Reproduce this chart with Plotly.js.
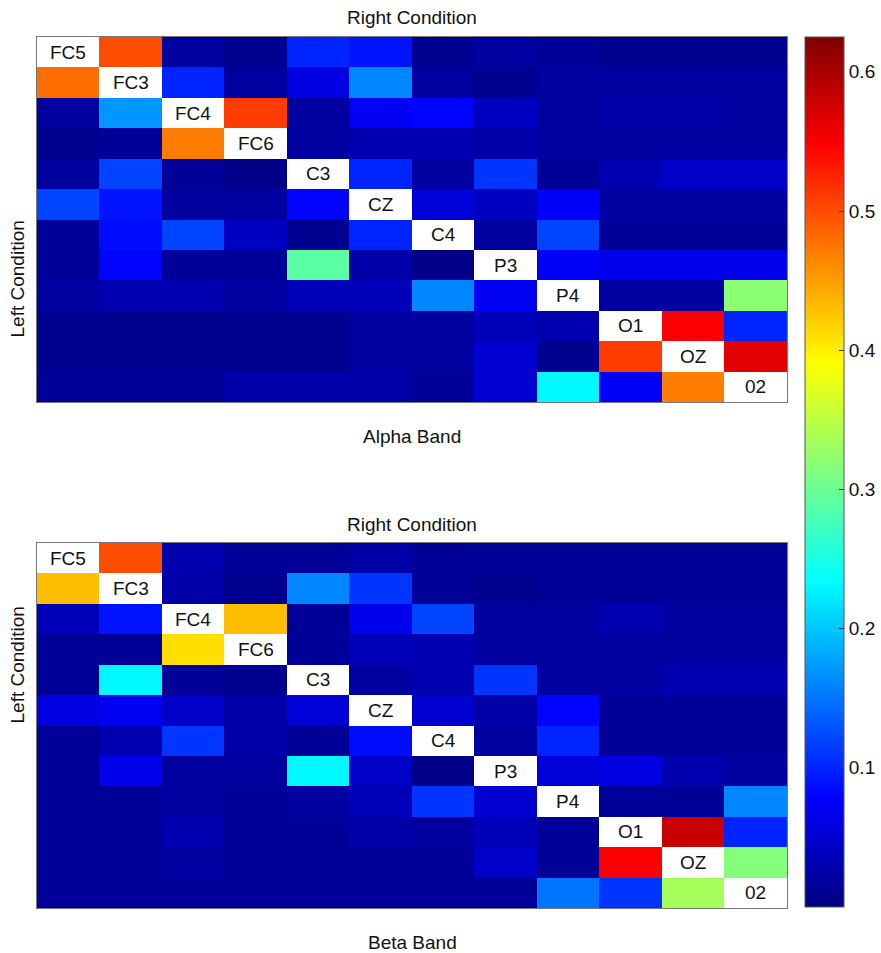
<!DOCTYPE html>
<html>
<head>
<meta charset="utf-8">
<script src="https://cdn.plot.ly/plotly-3.0.1.min.js"></script>
<style>html,body{margin:0;padding:0;background:#fff;}#chart{width:881px;height:953px;}</style>
</head>
<body>
<div id="chart"></div>
<script>
// Channel labels (rows = Left Condition, columns = Right Condition)
const channels = ['FC5','FC3','FC4','FC6','C3','CZ','C4','P3','P4','O1','OZ','02'];

// Alpha band values (diagonal = null, drawn white with label)
const alphaValues = [
  [null, 0.50, 0.02, 0.01, 0.10, 0.09, 0.01, 0.02, 0.015, 0.01, 0.01, 0.01],
  [0.48, null, 0.10, 0.02, 0.06, 0.16, 0.02, 0.01, 0.02, 0.02, 0.02, 0.02],
  [0.02, 0.17, null, 0.51, 0.02, 0.07, 0.08, 0.04, 0.02, 0.025, 0.025, 0.02],
  [0.01, 0.015, 0.47, null, 0.02, 0.03, 0.03, 0.025, 0.02, 0.02, 0.02, 0.02],
  [0.02, 0.12, 0.015, 0.005, null, 0.10, 0.02, 0.11, 0.015, 0.03, 0.045, 0.045],
  [0.12, 0.09, 0.02, 0.02, 0.08, null, 0.055, 0.04, 0.075, 0.02, 0.02, 0.02],
  [0.015, 0.085, 0.12, 0.04, 0.01, 0.10, null, 0.02, 0.12, 0.015, 0.015, 0.015],
  [0.015, 0.08, 0.015, 0.015, 0.29, 0.025, 0.005, null, 0.075, 0.065, 0.065, 0.065],
  [0.02, 0.03, 0.03, 0.02, 0.035, 0.035, 0.16, 0.07, null, 0.02, 0.02, 0.32],
  [0.01, 0.01, 0.01, 0.01, 0.01, 0.02, 0.02, 0.035, 0.03, null, 0.55, 0.10],
  [0.01, 0.01, 0.01, 0.01, 0.01, 0.02, 0.02, 0.05, 0.01, 0.51, null, 0.565],
  [0.015, 0.015, 0.015, 0.025, 0.025, 0.025, 0.015, 0.05, 0.23, 0.075, 0.47, null]
];

// Beta band values
const betaValues = [
  [null, 0.50, 0.03, 0.015, 0.015, 0.025, 0.015, 0.015, 0.015, 0.015, 0.015, 0.015],
  [0.43, null, 0.025, 0.01, 0.16, 0.11, 0.015, 0.01, 0.015, 0.015, 0.015, 0.015],
  [0.035, 0.09, null, 0.43, 0.015, 0.065, 0.12, 0.02, 0.02, 0.03, 0.02, 0.02],
  [0.015, 0.015, 0.41, null, 0.015, 0.035, 0.03, 0.02, 0.02, 0.02, 0.02, 0.02],
  [0.015, 0.23, 0.015, 0.01, null, 0.02, 0.03, 0.11, 0.02, 0.02, 0.03, 0.03],
  [0.06, 0.07, 0.045, 0.025, 0.055, null, 0.05, 0.025, 0.08, 0.015, 0.015, 0.015],
  [0.015, 0.03, 0.11, 0.025, 0.015, 0.085, null, 0.02, 0.10, 0.015, 0.015, 0.015],
  [0.015, 0.065, 0.02, 0.02, 0.23, 0.045, 0.005, null, 0.055, 0.06, 0.03, 0.02],
  [0.015, 0.015, 0.02, 0.015, 0.02, 0.035, 0.11, 0.05, null, 0.015, 0.015, 0.16],
  [0.015, 0.015, 0.03, 0.015, 0.015, 0.025, 0.02, 0.035, 0.015, null, 0.58, 0.10],
  [0.015, 0.015, 0.02, 0.015, 0.015, 0.015, 0.015, 0.045, 0.015, 0.55, null, 0.315],
  [0.015, 0.015, 0.015, 0.015, 0.015, 0.015, 0.015, 0.015, 0.15, 0.11, 0.335, null]
];

const colorTicks = [0.1, 0.2, 0.3, 0.4, 0.5, 0.6];
const zMin = 0;
const zMax = 0.625;

// MATLAB-style jet colormap
const jet = [
  [0, 'rgb(0,0,128)'],
  [0.125, 'rgb(0,0,255)'],
  [0.375, 'rgb(0,255,255)'],
  [0.625, 'rgb(255,255,0)'],
  [0.875, 'rgb(255,0,0)'],
  [1, 'rgb(128,0,0)']
];

const idx = channels.map((_, i) => i);
const font = {family: 'Liberation Sans, Arial, sans-serif', size: 19, color: '#111'};

const W = 881, H = 953;
const xDom = [37 / W, 788 / W];
const yTop = [1 - 402 / H, 1 - 37 / H];
const yBot = [1 - 908 / H, 1 - 543 / H];

const traces = [
  {
    type: 'heatmap', x: idx, y: idx, z: alphaValues, xaxis: 'x', yaxis: 'y',
    colorscale: jet, zmin: zMin, zmax: zMax, zsmooth: false, hoverongaps: false,
    colorbar: {
      x: 805 / W, xanchor: 'left', xpad: 0, ypad: 0,
      y: 1 - 472 / H, yanchor: 'middle', len: 870 / H, lenmode: 'fraction',
      thickness: 39, thicknessmode: 'pixels',
      outlinewidth: 1, outlinecolor: '#555',
      tickvals: colorTicks, ticks: 'inside', ticklen: 5, tickcolor: '#333',
      tickfont: {family: font.family, size: 19, color: '#111'}
    }
  },
  {
    type: 'heatmap', x: idx, y: idx, z: betaValues, xaxis: 'x2', yaxis: 'y2',
    colorscale: jet, zmin: zMin, zmax: zMax, zsmooth: false, hoverongaps: false,
    showscale: false
  }
];

const annotations = [];
channels.forEach((c, i) => {
  annotations.push({x: i, y: i, xref: 'x', yref: 'y', text: c, showarrow: false, font: font});
  annotations.push({x: i, y: i, xref: 'x2', yref: 'y2', text: c, showarrow: false, font: font});
});
const cx = (xDom[0] + xDom[1]) / 2;
annotations.push(
  {text: 'Right Condition', xref: 'paper', yref: 'paper', x: cx, y: 1 - 17 / H, showarrow: false, font: font, yanchor: 'middle'},
  {text: 'Alpha Band', xref: 'paper', yref: 'paper', x: cx, y: 1 - 437 / H, showarrow: false, font: font, yanchor: 'middle'},
  {text: 'Right Condition', xref: 'paper', yref: 'paper', x: cx, y: 1 - 524 / H, showarrow: false, font: font, yanchor: 'middle'},
  {text: 'Beta Band', xref: 'paper', yref: 'paper', x: cx, y: 1 - 942 / H, showarrow: false, font: font, yanchor: 'middle'},
  {text: 'Left Condition', xref: 'paper', yref: 'paper', x: 18 / W, y: 1 - 218 / H, textangle: -90, showarrow: false, font: font, xanchor: 'center'},
  {text: 'Left Condition', xref: 'paper', yref: 'paper', x: 18 / W, y: 1 - 725 / H, textangle: -90, showarrow: false, font: font, xanchor: 'center'}
);

const ax = {showticklabels: false, ticks: '', showgrid: false, zeroline: false, showline: true, linecolor: '#777', linewidth: 1, mirror: true, range: [-0.5, 11.5]};

const layout = {
  width: W, height: H,
  margin: {l: 0, r: 0, t: 0, b: 0},
  paper_bgcolor: '#fff', plot_bgcolor: '#fff',
  showlegend: false,
  xaxis: Object.assign({}, ax, {domain: xDom, anchor: 'y'}),
  yaxis: Object.assign({}, ax, {domain: yTop, anchor: 'x', range: [11.5, -0.5]}),
  xaxis2: Object.assign({}, ax, {domain: xDom, anchor: 'y2'}),
  yaxis2: Object.assign({}, ax, {domain: yBot, anchor: 'x2', range: [11.5, -0.5]}),
  annotations: annotations
};

Plotly.newPlot('chart', traces, layout, {staticPlot: true, displayModeBar: false});
</script>
</body>
</html>
